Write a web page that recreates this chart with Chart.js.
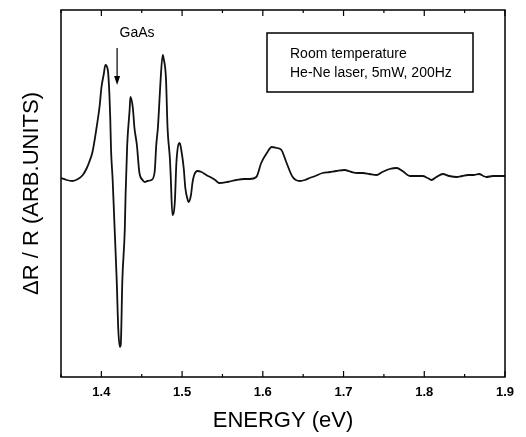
<!DOCTYPE html>
<html><head><meta charset="utf-8">
<script src="https://cdn.jsdelivr.net/npm/chart.js@4"></script>
<style>html,body{margin:0;padding:0;background:#fff}</style>
</head><body>
<canvas id="c" width="526" height="437"></canvas>
<script>
const energy = [1.350,1.357,1.364,1.371,1.377,1.382,1.385,1.389,1.394,1.398,1.400,1.403,1.405,1.408,1.410,1.411,1.412,1.414,1.416,1.419,1.421,1.423,1.424,1.426,1.429,1.430,1.432,1.435,1.436,1.439,1.441,1.444,1.447,1.451,1.454,1.457,1.462,1.466,1.468,1.470,1.472,1.473,1.476,1.477,1.480,1.482,1.485,1.486,1.488,1.491,1.493,1.497,1.499,1.502,1.504,1.507,1.508,1.511,1.513,1.515,1.519,1.524,1.530,1.537,1.541,1.546,1.556,1.567,1.577,1.584,1.592,1.598,1.605,1.611,1.617,1.623,1.629,1.637,1.646,1.652,1.658,1.665,1.674,1.683,1.691,1.701,1.710,1.717,1.724,1.732,1.741,1.748,1.757,1.766,1.773,1.782,1.790,1.798,1.804,1.809,1.815,1.823,1.831,1.840,1.847,1.854,1.861,1.868,1.873,1.877,1.885,1.893,1.900];
const signal = [0,-2,-3,-1,3,10,16,26,50,73,90,104,113,108,83,60,28,-2,-42,-102,-152,-169,-167,-102,-52,-17,33,68,81,70,50,33,6,-2,-4,-3,-2,6,33,50,78,93,123,120,100,50,18,0,-37,-24,16,35,28,10,-10,-22,-24,-17,-4,3,7,6,3,0,-2,-5,-4,-2,-1,-1,1,15,25,31,30,28,16,1,-3,-2,0,2,5,6,7,8,6,5,5,4,3,6,9,10,7,2,2,2,0,-2,1,4,2,1,2,3,3,4,2,1,2,2,2];
const xTicks = [1.4,1.5,1.6,1.7,1.8,1.9];
const xMinorTicks = [1.35,1.45,1.55,1.65,1.75,1.85];
const yRange = [-199,168];
const legendLines = ['Room temperature','He-Ne laser, 5mW, 200Hz'];
const annotationText = 'GaAs';
const annotationEnergy = 1.4195;

const FONT = '"Liberation Sans", Arial, sans-serif';

const framePlugin = {
  id: 'frame',
  afterDraw(chart) {
    const ctx = chart.ctx, a = chart.chartArea, xs = chart.scales.x;
    ctx.save();
    ctx.strokeStyle = '#000';
    ctx.lineWidth = 1.5;
    ctx.strokeRect(a.left, a.top, a.right - a.left, a.bottom - a.top);
    ctx.lineWidth = 1.2;
    const drawTick = (v, len) => {
      const px = xs.getPixelForValue(v);
      ctx.beginPath();
      ctx.moveTo(px, a.bottom); ctx.lineTo(px, a.bottom - len);
      ctx.moveTo(px, a.top); ctx.lineTo(px, a.top + len);
      ctx.stroke();
    };
    xTicks.forEach(v => drawTick(v, 6));
    xMinorTicks.forEach(v => drawTick(v, 3));
    // legend box
    ctx.lineWidth = 1.5;
    ctx.strokeRect(267, 33, 206, 59);
    ctx.fillStyle = '#000';
    ctx.font = '14px ' + FONT;
    ctx.textBaseline = 'middle';
    ctx.textAlign = 'left';
    ctx.fillText(legendLines[0], 290, 54);
    ctx.fillText(legendLines[1], 290, 73);
    // annotation
    const ax = xs.getPixelForValue(annotationEnergy);
    ctx.textAlign = 'center';
    ctx.fillText(annotationText, 137, 33);
    ctx.lineWidth = 1.2;
    ctx.beginPath();
    ctx.moveTo(ax, 48); ctx.lineTo(ax, 80);
    ctx.stroke();
    ctx.beginPath();
    ctx.moveTo(ax - 3, 76); ctx.lineTo(ax + 3, 76); ctx.lineTo(ax, 85); ctx.closePath();
    ctx.fill();
    ctx.restore();
  }
};

new Chart(document.getElementById('c'), {
  type: 'line',
  data: {
    datasets: [{
      data: energy.map((e, i) => ({x: e, y: signal[i]})),
      borderColor: '#111',
      borderWidth: 1.8,
      pointRadius: 0,
      cubicInterpolationMode: 'monotone',
      fill: false
    }]
  },
  options: {
    responsive: false,
    animation: false,
    devicePixelRatio: 1,
    layout: {padding: {top: 10, right: 21, left: 0, bottom: 0}},
    plugins: {legend: {display: false}, tooltip: {enabled: false}},
    scales: {
      x: {
        type: 'linear', min: 1.35, max: 1.9,
        afterBuildTicks: s => { s.ticks = xTicks.map(v => ({value: v})); },
        afterFit: s => { s.height = 60; },
        grid: {display: false, drawTicks: false},
        border: {display: false},
        ticks: {color: '#000', font: {family: FONT, size: 13, weight: 'bold'}, padding: 8, maxRotation: 0, autoSkip: false, callback: v => v.toFixed(1)},
        title: {display: true, text: 'ENERGY (eV)', color: '#000', font: {family: FONT, size: 22}, padding: {top: 0, bottom: 3}}
      },
      y: {
        min: yRange[0], max: yRange[1],
        afterFit: s => { s.width = 61; },
        grid: {display: false, drawTicks: false},
        border: {display: false},
        ticks: {display: false},
        title: {display: true, text: 'ΔR / R (ARB.UNITS)', color: '#000', font: {family: FONT, size: 22}, padding: {top: 19, bottom: 0}}
      }
    }
  },
  plugins: [framePlugin]
});
</script>
</body></html>
